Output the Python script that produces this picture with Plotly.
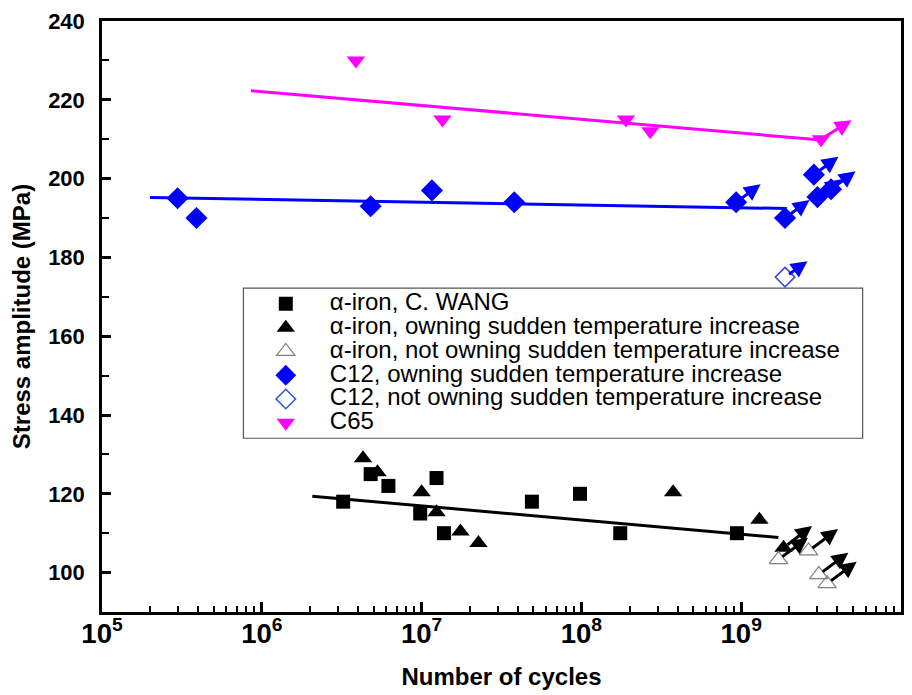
import math

import plotly.graph_objects as go

# ---------------------------------------------------------------------------
# Data
# ---------------------------------------------------------------------------

# alpha-iron, C. WANG
wang_n = [3.23e6, 4.8e6, 6.2e6, 9.8e6, 1.24e7, 1.38e7, 4.9e7, 9.8e7, 1.75e8, 9.4e8]
wang_s = [118, 125, 122, 115, 124, 110, 118, 120, 110, 110]

# alpha-iron, owning sudden temperature increase
fe_on_n = [4.3e6, 5.3e6, 1.0e7, 1.24e7, 1.75e7, 2.27e7, 3.75e8, 1.3e9, 1.84e9]
fe_on_s = [129, 125.5, 120.4, 115.3, 110.4, 107.5, 120.4, 113.4, 106.3]
fe_on_runout = [False, False, False, False, False, False, False, False, True]

# alpha-iron, not owning sudden temperature increase (all run-outs)
fe_off_n = [1.71e9, 2.64e9, 3.06e9, 3.45e9]
fe_off_s = [103.3, 105.5, 99.5, 97.2]

# C12, owning sudden temperature increase
c12_on_n = [2.97e5, 3.9e5, 4.8e6, 1.16e7, 3.8e7, 9.3e8, 1.88e9, 2.85e9, 3.0e9, 3.65e9]
c12_on_s = [195, 190, 193, 197, 194, 194, 190, 201, 195.3, 197.3]
c12_on_runout = [False, False, False, False, False, True, True, True, True, True]

# C12, not owning sudden temperature increase
c12_off_n = [1.88e9]
c12_off_s = [175]

# C65
c65_n = [3.88e6, 1.35e7, 1.9e8, 2.7e8, 3.16e9]
c65_s = [230, 215, 215, 212, 210]
c65_runout = [False, False, False, False, True]

# fitted S-N lines
fe_fit_n = [2.07e6, 1.71e9]
fe_fit_s = [119.4, 108.9]
c12_fit_n = [2.0e5, 1.93e9]
c12_fit_s = [195.2, 192.4]
c65_fit_n = [8.55e5, 3.16e9]
c65_fit_s = [222.3, 209.8]

y_ticks = [100, 120, 140, 160, 180, 200, 220, 240]

BLUE = "#0000ff"
MAGENTA = "#ff00ff"
FONT = "Arial, Liberation Sans, sans-serif"
LEG_PAD = "\u2002\u2002"


def leg(name):
    return f"<span style='font-size:24px'>{LEG_PAD}{name}</span>"


fig = go.Figure()

# fit lines
for xs, ys, col in [
    (fe_fit_n, fe_fit_s, "black"),
    (c12_fit_n, c12_fit_s, BLUE),
    (c65_fit_n, c65_fit_s, MAGENTA),
]:
    fig.add_trace(go.Scatter(x=xs, y=ys, mode="lines", line=dict(color=col, width=3),
                             showlegend=False, hoverinfo="skip"))

series = [
    ("α-iron, C. WANG", wang_n, wang_s, dict(symbol="square", size=14, color="black")),
    ("α-iron, owning sudden temperature increase", fe_on_n, fe_on_s,
     dict(symbol="triangle-up", size=16, color="black")),
    ("α-iron, not owning sudden temperature increase", fe_off_n, fe_off_s,
     dict(symbol="triangle-up-open", size=16, color="#808080", line=dict(width=1.2))),
    ("C12, owning sudden temperature increase", c12_on_n, c12_on_s,
     dict(symbol="diamond", size=17, color=BLUE)),
    ("C12, not owning sudden temperature increase", c12_off_n, c12_off_s,
     dict(symbol="diamond-open", size=15, color="#3050d0", line=dict(width=1.5))),
    ("C65", c65_n, c65_s, dict(symbol="triangle-down", size=16, color=MAGENTA)),
]
for name, xs, ys, mk in series:
    fig.add_trace(go.Scatter(x=xs, y=ys, mode="markers", name=leg(name), marker=mk))

# run-out arrows (annotation x on a log axis is given in log10 units)
runouts = []
runouts += [(n, s, "black", 30, -23) for n, s, r in zip(fe_on_n, fe_on_s, fe_on_runout) if r]
runouts += [(n, s, "black", 31, -23) for n, s in zip(fe_off_n, fe_off_s)]
runouts += [(n, s, BLUE, 26, -19) for n, s, r in zip(c12_on_n, c12_on_s, c12_on_runout) if r]
runouts += [(n, s, BLUE, 24, -17) for n, s in zip(c12_off_n, c12_off_s)]
runouts += [(n, s, MAGENTA, 32, -20) for n, s, r in zip(c65_n, c65_s, c65_runout) if r]
for n, s, col, dx, dy in runouts:
    fig.add_annotation(x=math.log10(n), y=s, ax=dx, ay=dy, text="", showarrow=True,
                       arrowside="start", startarrowhead=2, startarrowsize=1.1,
                       arrowwidth=3, arrowcolor=col, standoff=5)

axis_common = dict(
    showline=True, linecolor="black", linewidth=2.5, mirror=True, automargin=False,
    ticks="inside", tickcolor="black", tickwidth=2.5, showgrid=False, zeroline=False,
    tickfont=dict(family=FONT, size=22, color="black", weight="bold"),
)

fig.update_xaxes(
    type="log", range=[5, 10], tick0=0, dtick=1, exponentformat="power",
    showexponent="all", ticklen=10, ticklabelstandoff=-4,
    minor=dict(ticks="inside", ticklen=6, tickwidth=2, tickcolor="black", dtick="D1"),
    title=dict(text="Number of cycles", standoff=21,
               font=dict(family=FONT, size=24, color="black", weight="bold")),
    **axis_common,
)
fig.update_yaxes(
    range=[90, 240], tickvals=y_ticks, ticklen=9, ticklabelstandoff=10,
    minor=dict(ticks="inside", ticklen=7, tickwidth=2, tickcolor="black", dtick=10),
    title=dict(text="Stress amplitude (MPa)", standoff=13,
               font=dict(family=FONT, size=24, color="black", weight="bold")),
    **axis_common,
)

# legend frame
fig.add_shape(type="rect", xref="paper", yref="paper", x0=0.177, x1=0.952,
              y0=0.294, y1=0.548, line=dict(color="#555555", width=1.2),
              fillcolor="rgba(0,0,0,0)", layer="below")

# the page body adds an 8 px margin, so the figure is 8 px smaller than the window
fig.update_layout(
    width=904, height=687,
    margin=dict(l=94, r=11, t=13, b=83),
    plot_bgcolor="white", paper_bgcolor="white",
    font=dict(family=FONT, color="black"),
    showlegend=True,
    legend=dict(x=0.205, y=0.55, xanchor="left", yanchor="top",
                bgcolor="rgba(0,0,0,0)", borderwidth=0,
                font=dict(family=FONT, size=16, color="black")),
)

fig.write_html("out.html")
